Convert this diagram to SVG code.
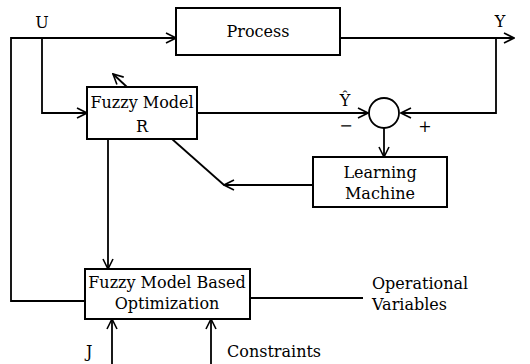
<svg xmlns="http://www.w3.org/2000/svg" width="530" height="364" viewBox="0 0 530 364">
<defs>
<marker id="ah" viewBox="0 0 12 12" refX="11" refY="6" markerWidth="12" markerHeight="12" markerUnits="userSpaceOnUse" orient="auto">
<path d="M1,1 L11,6 L1,11" fill="none" stroke="#000" stroke-width="1.6"/>
</marker>
</defs>
<style>
.box{fill:#fff;stroke:#000;stroke-width:2}
.ln{fill:none;stroke:#000;stroke-width:1.8}
text{font-family:"DejaVu Serif","Liberation Serif",serif;font-size:16px;fill:#000}
.c{text-anchor:middle}
</style>
<rect width="530" height="364" fill="#fff"/>
<g id="connectors">
<path class="ln" d="M85,301 H11 V38 H176" marker-end="url(#ah)"/>
<path class="ln" d="M42,38 V113 H87" marker-end="url(#ah)"/>
<path class="ln" d="M340,38 H514" marker-end="url(#ah)"/>
<path class="ln" d="M496,38 V113 H401" marker-end="url(#ah)"/>
<path class="ln" d="M197,113 H368" marker-end="url(#ah)"/>
<path class="ln" d="M384,128 V157" marker-end="url(#ah)"/>
<path class="ln" d="M313,185 H224" marker-end="url(#ah)"/>
<path class="ln" d="M224,185 L172,139"/>
<path class="ln" d="M127,87 L113,74" marker-end="url(#ah)"/>
<path class="ln" d="M108,139 V269" marker-end="url(#ah)"/>
<path class="ln" d="M250,298 H363"/>
<path class="ln" d="M112,364 V319" marker-end="url(#ah)"/>
<path class="ln" d="M211,364 V319" marker-end="url(#ah)"/>
</g>
<g id="process">
<rect class="box" x="176" y="8" width="164" height="47"/>
<text class="c" x="258" y="37">Process</text>
</g>
<g id="fuzzy-model">
<rect class="box" x="87" y="87" width="110" height="52"/>
<text class="c" x="142" y="108">Fuzzy Model</text>
<text class="c" x="142" y="132">R</text>
</g>
<g id="sum">
<circle cx="384" cy="113" r="15" fill="none" stroke="#000" stroke-width="1.8"/>
</g>
<g id="learning-machine">
<rect class="box" x="313" y="157" width="134" height="50"/>
<text class="c" x="380" y="178">Learning</text>
<text class="c" x="380" y="199">Machine</text>
</g>
<g id="optimization">
<rect class="box" x="85" y="269" width="165" height="50"/>
<text class="c" x="167" y="288">Fuzzy Model Based</text>
<text class="c" x="167" y="309">Optimization</text>
</g>
<g id="labels">
<text class="c" x="42" y="28">U</text>
<text class="c" x="500" y="27">Y</text>
<text class="c" x="345" y="106">Ŷ</text>
<text class="c" x="346" y="131">−</text>
<text class="c" x="425" y="132">+</text>
<text x="372" y="289">Operational</text>
<text x="372" y="310">Variables</text>
<text x="86" y="357">J</text>
<text x="227" y="357">Constraints</text>
</g>
</svg>
